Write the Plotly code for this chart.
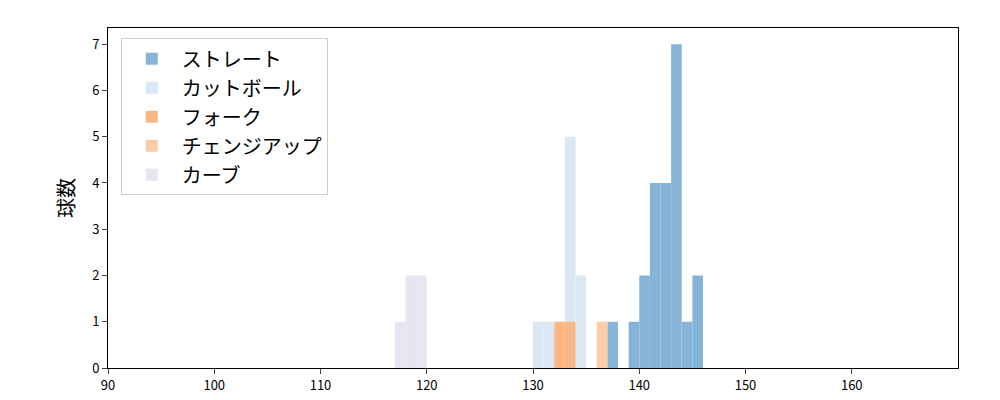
import plotly.graph_objects as go

series = ["ストレート", "カットボール", "フォーク", "チェンジアップ", "カーブ"]
colors = ["#86b4d9", "#dbe7f3", "#f9b784", "#fdcba4", "#e6e6f0"]
bins = {
    "ストレート": ([137.5, 139.5, 140.5, 141.5, 142.5, 143.5, 144.5, 145.5], [1, 1, 2, 4, 4, 7, 1, 2]),
    "カットボール": ([130.5, 131.5, 133.5, 134.5], [1, 1, 5, 2]),
    "フォーク": ([132.5, 133.5], [1, 1]),
    "チェンジアップ": ([136.5], [1]),
    "カーブ": ([117.5, 118.5, 119.5], [1, 2, 2]),
}
xticks = [90, 100, 110, 120, 130, 140, 150, 160]

fig = go.Figure()
for name, c in zip(series, colors):
    x, y = bins[name]
    fig.add_trace(go.Bar(x=x, y=y, width=1, name=name, marker=dict(color=c, line_width=0)))
fig.update_layout(
    width=1000, height=400, barmode="overlay", plot_bgcolor="white", paper_bgcolor="white",
    margin=dict(l=100, r=50, t=20, b=40, autoexpand=False),
    font=dict(family="Noto Sans CJK JP", size=13, color="black"),
    showlegend=True,
    legend=dict(x=0.015, y=0.97, xanchor="left", yanchor="top", bordercolor="#cccccc", borderwidth=1,
                font=dict(size=20), bgcolor="white", itemwidth=50, tracegroupgap=2),
    xaxis=dict(range=[90, 170], tickvals=xticks, showgrid=False, showline=True, linecolor="black",
               mirror=True, ticks="outside", zeroline=False, automargin=False),
    yaxis=dict(range=[0, 7.35], dtick=1, showgrid=False, showline=True, linecolor="black",
               mirror=True, ticks="outside", zeroline=False, automargin=False,
               title=dict(text="球数", font=dict(size=20), standoff=12)),
)
fig.write_html("out.html")
